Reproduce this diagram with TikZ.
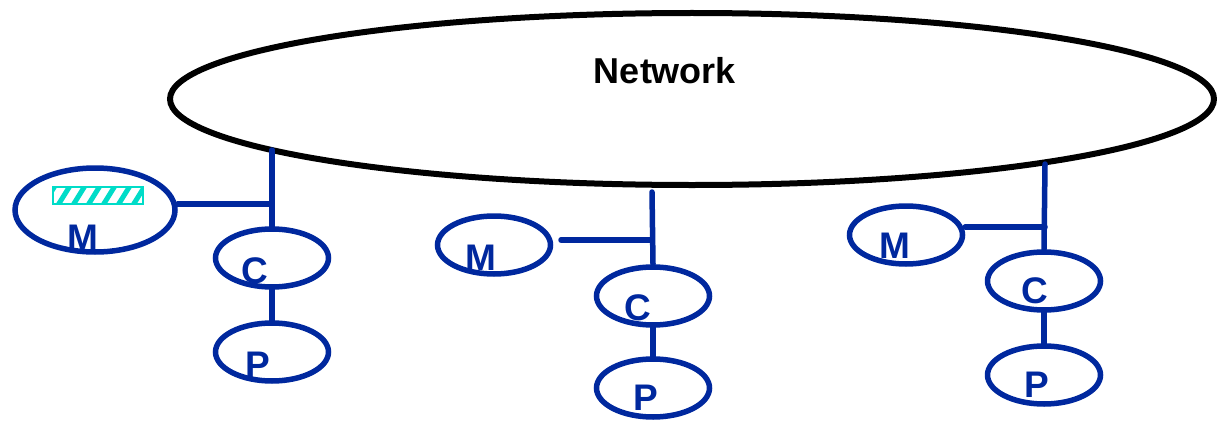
\documentclass[tikz,border=0pt]{standalone}
\usepackage{fontspec}
\setmainfont{Liberation Sans}
\usetikzlibrary{shapes.geometric}
\definecolor{linkblue}{RGB}{0,40,158}
\definecolor{hatchcyan}{RGB}{0,220,200}
\tikzset{
  netshape/.style={draw=black, line width=6pt, ellipse, inner sep=0pt,
    minimum width=1044pt, minimum height=172pt},
  unit/.style={draw=linkblue, line width=5.5pt, ellipse, inner sep=0pt,
    minimum width=113pt, minimum height=58pt},
  bigunit/.style={unit, minimum width=160pt, minimum height=84pt},
  letter/.style={text=linkblue, font=\fontsize{37}{40}\selectfont\bfseries,
    inner sep=0pt, anchor=base},
  netlabel/.style={text=black, font=\fontsize{36}{40}\selectfont\bfseries,
    inner sep=0pt, anchor=base},
  wire/.style={draw=linkblue, line width=5.5pt, line cap=round},
}
\begin{document}
\begin{tikzpicture}[x=1pt, y=-1pt]
\useasboundingbox (0,0) rectangle (1217,420);

% the shared network
\node[netshape] (net) at (692,99) {};
\node[netlabel] (netlbl) at (665,83) {Network};

% left station: memory with a cached block, controller, processor
\node[bigunit] (m1) at (95,210) {};
\node[unit] (c1) at (272,258) {};
\node[unit] (p1) at (272,352) {};
\node[letter] (m1l) at (83,250) {M};
\node[letter] (c1l) at (255,283) {C};
\node[letter] (p1l) at (258,377) {P};
% hatched block inside the memory
\begin{scope}
  \clip (53,187) rectangle (143,204);
  \foreach \i in {0,...,8}
    \draw[hatchcyan, line width=5pt] (40+15*\i,210) -- (58+15*\i,181);
\end{scope}
\draw[hatchcyan, line width=2pt] (53,187) rectangle (143,204);
\coordinate (t1) at (272,150);
\coordinate (j1) at (272,204);
\draw[wire] (t1) -- (c1.north);
\draw[wire] (m1.east |- j1) -- (j1);
\draw[wire] (c1.south) -- (p1.north);

% middle station
\node[unit] (m2) at (494,245) {};
\node[unit] (c2) at (653,296) {};
\node[unit] (p2) at (653,388) {};
\node[letter] (m2l) at (481,270) {M};
\node[letter] (c2l) at (638,320) {C};
\node[letter] (p2l) at (646,410) {P};
\coordinate (t2) at (652,192);
\coordinate (h2) at (561,240);
\coordinate (j2) at (652,240);
\draw[wire] (t2) -- (c2.north);
\draw[wire] (h2) -- (j2);
\draw[wire] (c2.south) -- (p2.north);

% right station
\node[unit] (m3) at (906,235) {};
\node[unit] (c3) at (1044,281) {};
\node[unit] (p3) at (1044,375) {};
\node[letter] (m3l) at (895,258) {M};
\node[letter] (c3l) at (1035,303) {C};
\node[letter] (p3l) at (1037,397) {P};
\coordinate (t3) at (1045,164);
\coordinate (j3) at (1045,227);
\draw[wire] (t3) -- (c3.north);
\draw[wire] (m3.east |- j3) -- (j3);
\draw[wire] (c3.south) -- (p3.north);
\end{tikzpicture}
\end{document}
